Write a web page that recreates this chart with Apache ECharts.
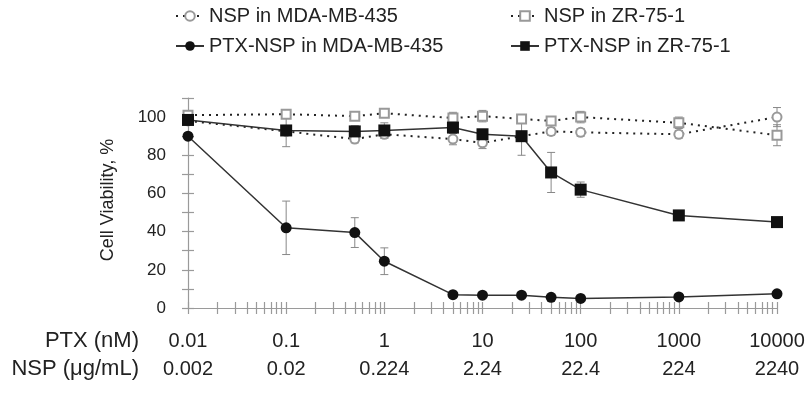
<!DOCTYPE html>
<html>
<head>
<meta charset="utf-8">
<script src="https://cdn.jsdelivr.net/npm/echarts@6/dist/echarts.min.js"></script>
<style>
  html, body { margin: 0; padding: 0; background: #fff; }
  #chart { width: 809px; height: 396px; }
</style>
</head>
<body>
<div id="chart"></div>
<script>
// PTX concentration (nM) at each measured point
const concPTX = [0.01, 0.1, 0.5, 1, 5, 10, 25, 50, 100, 1000, 10000];

// cell viability, %
const nspMda = [98, 92.5, 88.5, 91, 88.5, 86.5, 90, 92.5, 92, 91, 100];
const nspMdaErr = [2, 2, 2, 2, 3, 3, 2, 2, 2, 2, 5];
const nspZr = [101, 101.5, 100.5, 102, 99.5, 100.5, 99, 98, 100, 97, 90.5];
const nspZrErr = [2, 2, 1.5, 2, 3, 3, 2, 2, 3, 3, 5.5];
const ptxMda = [90, 42, 39.5, 24.5, 7, 6.7, 6.7, 5.6, 5, 5.8, 7.4];
const ptxMdaErr = [0, 14, 7.8, 7, 0, 0, 0, 0, 0, 0, 0];
const ptxZr = [98.5, 93, 92.5, 93, 94.5, 91, 90, 71, 62, 48.5, 45];
const ptxZrErr = [2, 8.5, 3, 4, 3, 2, 10, 10.5, 4, 0, 0];

// bottom tick rows
const ptxLabels = ['0.01', '0.1', '1', '10', '100', '1000', '10000'];
const nspLabels = ['0.002', '0.02', '0.224', '2.24', '22.4', '224', '2240'];

const names = ['NSP in MDA-MB-435', 'NSP in ZR-75-1', 'PTX-NSP in MDA-MB-435', 'PTX-NSP in ZR-75-1'];

const chart = echarts.init(document.getElementById('chart'));

// x is drawn on a log10 value axis
const lg = v => Math.log10(v);
const pts = ys => concPTX.map((c, i) => [lg(c), ys[i]]);
const errs = (ys, es) => concPTX
  .map((c, i) => [lg(c), ys[i] - es[i], ys[i] + es[i], es[i]])
  .filter(d => d[3] > 0);

// log minor ticks 1..9 per decade
const logTicks = [];
for (let d = -2; d <= 4; d++) {
  for (let k = 1; k <= 9; k++) {
    if (d === 4 && k > 1) break;
    logTicks.push(Math.log10(k) + d);
  }
}

const gray = '#9a9a9a';
const ink = '#222';

const errorBar = (ys, es, z) => ({
  type: 'custom',
  z: z,
  silent: true,
  data: errs(ys, es),
  encode: { x: 0, y: [1, 2] },
  renderItem: (params, api) => {
    const top = api.coord([api.value(0), api.value(2)]);
    const bot = api.coord([api.value(0), api.value(1)]);
    const w = 4;
    const st = { stroke: '#888', lineWidth: 1 };
    return {
      type: 'group',
      children: [
        { type: 'line', shape: { x1: top[0], y1: top[1], x2: bot[0], y2: bot[1] }, style: st },
        { type: 'line', shape: { x1: top[0] - w, y1: top[1], x2: top[0] + w, y2: top[1] }, style: st },
        { type: 'line', shape: { x1: bot[0] - w, y1: bot[1], x2: bot[0] + w, y2: bot[1] }, style: st }
      ]
    };
  }
});

const legendAt = (name, left, top) => ({
  data: [name],
  left: left,
  top: top,
  itemWidth: 28,
  itemHeight: 12,
  textStyle: { fontSize: 20, color: ink }
});

const hiddenAxis = {
  axisLine: { show: false, onZero: false },
  axisTick: { show: false },
  splitLine: { show: false }
};

const option = {
  animation: false,
  textStyle: { fontFamily: 'Liberation Sans, Arial, sans-serif' },
  grid: { left: 188, right: 32, top: 98, bottom: 88, outerBoundsMode: 'none' },
  legend: [
    legendAt(names[0], 170, 1),
    legendAt(names[1], 505, 1),
    legendAt(names[2], 170, 31),
    legendAt(names[3], 505, 31)
  ],
  xAxis: [
    {
      type: 'value', min: -2, max: 4, interval: 1, position: 'bottom',
      axisLine: { onZero: false, lineStyle: { color: gray, width: 1.2 } },
      axisTick: { customValues: logTicks, length: 6, lineStyle: { color: gray, width: 1.2 } },
      axisLabel: { show: false },
      splitLine: { show: false }
    },
    {
      type: 'value', min: -2, max: 4, interval: 1, position: 'bottom',
      axisLine: { show: false, onZero: false },
      axisTick: { customValues: logTicks, inside: true, length: 6, lineStyle: { color: gray, width: 1.2 } },
      axisLabel: { show: false },
      splitLine: { show: false }
    },
    Object.assign({
      type: 'value', min: -2, max: 4, interval: 1, position: 'bottom', offset: 33,
      axisLabel: {
        margin: 0, verticalAlign: 'middle', fontSize: 20, color: ink,
        formatter: v => ptxLabels[Math.round(v) + 2]
      },
      name: 'PTX (nM)', nameLocation: 'start', nameGap: 49,
      nameTextStyle: { fontSize: 22, color: ink }
    }, hiddenAxis),
    Object.assign({
      type: 'value', min: -2, max: 4, interval: 1, position: 'bottom', offset: 61,
      axisLabel: {
        margin: 0, verticalAlign: 'middle', fontSize: 20, color: ink,
        formatter: v => nspLabels[Math.round(v) + 2]
      },
      name: 'NSP (μg/mL)', nameLocation: 'start', nameGap: 49,
      nameTextStyle: { fontSize: 22, color: ink }
    }, hiddenAxis)
  ],
  yAxis: [
    {
      type: 'value', min: 0, max: 110, interval: 10, position: 'left',
      axisLine: { show: true, onZero: false, lineStyle: { color: gray, width: 1.2 } },
      axisTick: { show: true, length: 6, lineStyle: { color: gray, width: 1.2 } },
      axisLabel: {
        margin: 22, fontSize: 17, color: ink,
        formatter: v => (v % 20 === 0 && v <= 100) ? String(v) : ''
      },
      splitLine: { show: false },
      name: 'Cell Viability, %', nameLocation: 'middle', nameGap: 71,
      nameTextStyle: { fontSize: 18, color: ink, padding: [0, 0, 0, 6] }
    },
    {
      type: 'value', min: 0, max: 110, interval: 10, position: 'left',
      axisLine: { show: false, onZero: false },
      axisTick: { show: true, inside: true, length: 6, lineStyle: { color: gray, width: 1.2 } },
      axisLabel: { show: false },
      splitLine: { show: false }
    }
  ],
  series: [
    errorBar(nspMda, nspMdaErr, 1),
    errorBar(nspZr, nspZrErr, 1),
    errorBar(ptxMda, ptxMdaErr, 1),
    errorBar(ptxZr, ptxZrErr, 1),
    {
      name: names[0], type: 'line', z: 2, data: pts(nspMda),
      symbol: 'emptyCircle', symbolSize: 9,
      lineStyle: { color: ink, width: 2, type: [2, 5] },
      itemStyle: { color: '#999', borderWidth: 1 }
    },
    {
      name: names[1], type: 'line', z: 2, data: pts(nspZr),
      symbol: 'emptyRect', symbolSize: 9,
      lineStyle: { color: ink, width: 2, type: [2, 5] },
      itemStyle: { color: '#999', borderWidth: 1 }
    },
    {
      name: names[2], type: 'line', z: 3, data: pts(ptxMda),
      symbol: 'circle', symbolSize: 11,
      lineStyle: { color: '#333', width: 1.5 },
      itemStyle: { color: '#111' }
    },
    {
      name: names[3], type: 'line', z: 3, data: pts(ptxZr),
      symbol: 'rect', symbolSize: 12,
      lineStyle: { color: '#333', width: 1.5 },
      itemStyle: { color: '#111' }
    }
  ]
};

chart.setOption(option);
</script>
</body>
</html>
